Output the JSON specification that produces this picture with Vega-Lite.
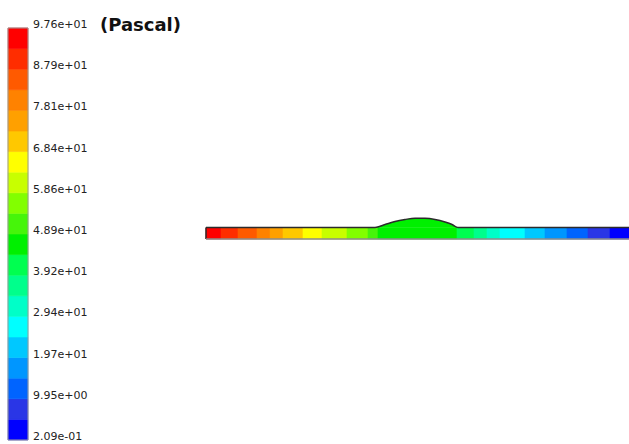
{
  "$schema": "https://vega.github.io/schema/vega-lite/v6.json",
  "width": 629,
  "height": 444,
  "padding": 0,
  "autosize": {"type": "none"},
  "background": "white",
  "config": {"view": {"stroke": null}},
  "datasets": {
    "bands": [
      {"lo": 0.209, "hi": 5.079, "p": 2.64},
      {"lo": 5.079, "hi": 9.948, "p": 7.51},
      {"lo": 9.948, "hi": 14.818, "p": 12.38},
      {"lo": 14.818, "hi": 19.687, "p": 17.25},
      {"lo": 19.687, "hi": 24.557, "p": 22.12},
      {"lo": 24.557, "hi": 29.426, "p": 26.99},
      {"lo": 29.426, "hi": 34.296, "p": 31.86},
      {"lo": 34.296, "hi": 39.165, "p": 36.73},
      {"lo": 39.165, "hi": 44.035, "p": 41.6},
      {"lo": 44.035, "hi": 48.904, "p": 46.47},
      {"lo": 48.904, "hi": 53.774, "p": 51.34},
      {"lo": 53.774, "hi": 58.643, "p": 56.21},
      {"lo": 58.643, "hi": 63.513, "p": 61.08},
      {"lo": 63.513, "hi": 68.382, "p": 65.95},
      {"lo": 68.382, "hi": 73.252, "p": 70.82},
      {"lo": 73.252, "hi": 78.121, "p": 75.69},
      {"lo": 78.121, "hi": 82.991, "p": 80.56},
      {"lo": 82.991, "hi": 87.86, "p": 85.43},
      {"lo": 87.86, "hi": 92.73, "p": 90.3},
      {"lo": 92.73, "hi": 97.6, "p": 95.17}
    ],
    "ticks": [
      {"v": 0.209, "label": "2.09e-01"},
      {"v": 9.948, "label": "9.95e+00"},
      {"v": 19.687, "label": "1.97e+01"},
      {"v": 29.426, "label": "2.94e+01"},
      {"v": 39.165, "label": "3.92e+01"},
      {"v": 48.904, "label": "4.89e+01"},
      {"v": 58.643, "label": "5.86e+01"},
      {"v": 68.382, "label": "6.84e+01"},
      {"v": 78.121, "label": "7.81e+01"},
      {"v": 87.86, "label": "8.79e+01"},
      {"v": 97.6, "label": "9.76e+01"}
    ],
    "segments": [
      {"x0": 0, "x1": 3.55, "p": 95.1},
      {"x0": 3.55, "x1": 7.57, "p": 90.3},
      {"x0": 7.57, "x1": 12.06, "p": 85.4},
      {"x0": 12.06, "x1": 15.13, "p": 80.5},
      {"x0": 15.13, "x1": 18.2, "p": 75.7},
      {"x0": 18.2, "x1": 22.93, "p": 70.8},
      {"x0": 22.93, "x1": 27.42, "p": 65.9},
      {"x0": 27.42, "x1": 33.33, "p": 61.1},
      {"x0": 33.33, "x1": 38.3, "p": 56.2},
      {"x0": 38.3, "x1": 40.66, "p": 51.3},
      {"x0": 40.66, "x1": 59.34, "p": 46.5},
      {"x0": 59.34, "x1": 63.36, "p": 41.6},
      {"x0": 63.36, "x1": 66.43, "p": 36.7},
      {"x0": 66.43, "x1": 69.5, "p": 31.9},
      {"x0": 69.5, "x1": 75.41, "p": 27.0},
      {"x0": 75.41, "x1": 80.14, "p": 22.1},
      {"x0": 80.14, "x1": 85.34, "p": 17.3},
      {"x0": 85.34, "x1": 90.31, "p": 12.4},
      {"x0": 90.31, "x1": 95.51, "p": 7.5},
      {"x0": 95.51, "x1": 100, "p": 2.6}
    ],
    "bump": [
      {"x": 39.95, "y": 2.72, "p": 46.5},
      {"x": 42.32, "y": 3.43, "p": 46.5},
      {"x": 44.68, "y": 4.14, "p": 46.5},
      {"x": 47.04, "y": 4.61, "p": 46.5},
      {"x": 49.41, "y": 4.92, "p": 46.5},
      {"x": 51.77, "y": 4.89, "p": 46.5},
      {"x": 54.14, "y": 4.61, "p": 46.5},
      {"x": 56.5, "y": 4.02, "p": 46.5},
      {"x": 58.16, "y": 3.43, "p": 46.5},
      {"x": 59.57, "y": 2.72, "p": 46.5}
    ],
    "outline": [
      {"edge": "top", "ord": 0, "x": 0, "y": 2.72},
      {"edge": "top", "ord": 1, "x": 39.95, "y": 2.72},
      {"edge": "top", "ord": 2, "x": 42.32, "y": 3.43},
      {"edge": "top", "ord": 3, "x": 44.68, "y": 4.14},
      {"edge": "top", "ord": 4, "x": 47.04, "y": 4.61},
      {"edge": "top", "ord": 5, "x": 49.41, "y": 4.92},
      {"edge": "top", "ord": 6, "x": 51.77, "y": 4.89},
      {"edge": "top", "ord": 7, "x": 54.14, "y": 4.61},
      {"edge": "top", "ord": 8, "x": 56.5, "y": 4.02},
      {"edge": "top", "ord": 9, "x": 58.16, "y": 3.43},
      {"edge": "top", "ord": 10, "x": 59.57, "y": 2.72},
      {"edge": "top", "ord": 11, "x": 100, "y": 2.72},
      {"edge": "left", "ord": 0, "x": 0, "y": 2.72},
      {"edge": "left", "ord": 1, "x": 0, "y": 0},
      {"edge": "bottom", "ord": 0, "x": 0, "y": 0},
      {"edge": "bottom", "ord": 1, "x": 100, "y": 0}
    ]
  },
  "layer": [
    {
      "layer": [
        {
          "data": {"name": "bands"},
          "mark": {"type": "rect", "strokeWidth": 0.6},
          "encoding": {
            "x": {"datum": 0, "type": "quantitative", "scale": {"domain": [-0.4, 31.05], "nice": false, "zero": false}, "axis": null},
            "x2": {"datum": 1},
            "y": {"field": "lo", "type": "quantitative", "scale": {"domain": [-0.737, 104.22], "nice": false, "zero": false}, "axis": null},
            "y2": {"field": "hi"},
            "fill": {"field": "p", "type": "quantitative", "legend": null,
              "scale": {"type": "quantize", "domain": [0.209, 97.6], "nice": false, "zero": false,
                "range": ["#0000ff", "#2a36e6", "#0064ff", "#0096ff", "#00c8ff", "#00ffff", "#00ffc8", "#00ff8c", "#00ff50", "#00f000", "#46f50a", "#82ff00", "#c8ff00", "#ffff00", "#ffc800", "#ffa000", "#ff8200", "#ff5a00", "#ff2d00", "#ff0000"]}},
            "stroke": {"field": "p", "type": "quantitative", "legend": null,
              "scale": {"type": "quantize", "domain": [0.209, 97.6], "nice": false, "zero": false,
                "range": ["#0000ff", "#2a36e6", "#0064ff", "#0096ff", "#00c8ff", "#00ffff", "#00ffc8", "#00ff8c", "#00ff50", "#00f000", "#46f50a", "#82ff00", "#c8ff00", "#ffff00", "#ffc800", "#ffa000", "#ff8200", "#ff5a00", "#ff2d00", "#ff0000"]}}
          }
        },
        {
          "data": {"values": [{"lo": 0.209, "hi": 97.6}]},
          "mark": {"type": "rect", "filled": false, "color": "#9a9a9a", "strokeWidth": 1},
          "encoding": {
            "x": {"datum": 0, "type": "quantitative"},
            "x2": {"datum": 1},
            "y": {"field": "lo", "type": "quantitative"},
            "y2": {"field": "hi"}
          }
        },
        {
          "data": {"name": "ticks"},
          "mark": {"type": "text", "align": "left", "baseline": "alphabetic", "font": "DejaVu Sans", "fontSize": 11, "color": "#222222"},
          "encoding": {
            "x": {"datum": 1.25, "type": "quantitative"},
            "y": {"field": "v", "type": "quantitative"},
            "text": {"field": "label"}
          }
        },
        {
          "data": {"values": [{"v": 96.9, "label": "(Pascal)"}]},
          "mark": {"type": "text", "align": "left", "baseline": "alphabetic", "font": "DejaVu Sans", "fontSize": 18, "fontWeight": "bold", "color": "#111111"},
          "encoding": {
            "x": {"datum": 4.6, "type": "quantitative"},
            "y": {"field": "v", "type": "quantitative"},
            "text": {"field": "label"}
          }
        }
      ]
    },
    {
      "layer": [
        {
          "data": {"name": "segments"},
          "mark": {"type": "rect", "strokeWidth": 0.6},
          "encoding": {
            "x": {"field": "x0", "type": "quantitative", "scale": {"domain": [-48.7, 100], "nice": false, "zero": false}, "axis": null},
            "x2": {"field": "x1"},
            "y": {"datum": 0, "type": "quantitative", "scale": {"domain": [-48.46, 56.5], "nice": false, "zero": false}, "axis": null},
            "y2": {"datum": 2.72},
            "fill": {"field": "p", "type": "quantitative", "legend": null,
              "scale": {"type": "quantize", "domain": [0.209, 97.6], "nice": false, "zero": false,
                "range": ["#0000ff", "#2a36e6", "#0064ff", "#0096ff", "#00c8ff", "#00ffff", "#00ffc8", "#00ff8c", "#00ff50", "#00f000", "#46f50a", "#82ff00", "#c8ff00", "#ffff00", "#ffc800", "#ffa000", "#ff8200", "#ff5a00", "#ff2d00", "#ff0000"]}},
            "stroke": {"field": "p", "type": "quantitative", "legend": null,
              "scale": {"type": "quantize", "domain": [0.209, 97.6], "nice": false, "zero": false,
                "range": ["#0000ff", "#2a36e6", "#0064ff", "#0096ff", "#00c8ff", "#00ffff", "#00ffc8", "#00ff8c", "#00ff50", "#00f000", "#46f50a", "#82ff00", "#c8ff00", "#ffff00", "#ffc800", "#ffa000", "#ff8200", "#ff5a00", "#ff2d00", "#ff0000"]}}
          }
        },
        {
          "data": {"name": "bump"},
          "mark": {"type": "area", "interpolate": "monotone"},
          "encoding": {
            "x": {"field": "x", "type": "quantitative"},
            "y": {"field": "y", "type": "quantitative"},
            "y2": {"datum": 2.72},
            "fill": {"field": "p", "type": "quantitative", "legend": null,
              "scale": {"type": "quantize", "domain": [0.209, 97.6], "nice": false, "zero": false,
                "range": ["#0000ff", "#2a36e6", "#0064ff", "#0096ff", "#00c8ff", "#00ffff", "#00ffc8", "#00ff8c", "#00ff50", "#00f000", "#46f50a", "#82ff00", "#c8ff00", "#ffff00", "#ffc800", "#ffa000", "#ff8200", "#ff5a00", "#ff2d00", "#ff0000"]}}
          }
        },
        {
          "data": {"name": "outline"},
          "mark": {"type": "line", "interpolate": "monotone", "strokeWidth": 1.5},
          "encoding": {
            "x": {"field": "x", "type": "quantitative"},
            "y": {"field": "y", "type": "quantitative"},
            "order": {"field": "ord", "type": "quantitative"},
            "detail": {"field": "edge", "type": "nominal"},
            "stroke": {"field": "edge", "type": "nominal", "legend": null,
              "scale": {"domain": ["top", "left", "bottom"], "range": ["#2b2b2b", "#2b2b2b", "#8c8c8c"]}}
          }
        }
      ],
      "resolve": {"scale": {"stroke": "independent"}}
    }
  ],
  "resolve": {"scale": {"x": "independent", "y": "independent"}}
}
